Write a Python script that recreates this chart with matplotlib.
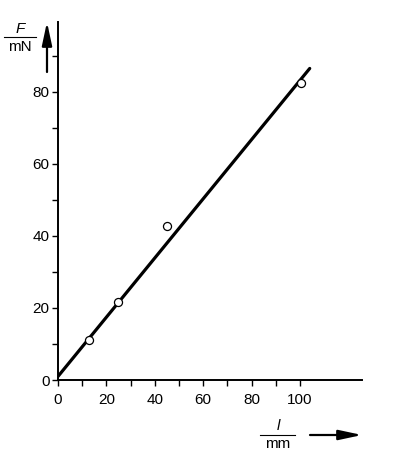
import numpy as np
import matplotlib
matplotlib.use('Agg')
import matplotlib.pyplot as plt

plt.rcParams['font.family'] = ['Liberation Sans', 'DejaVu Sans']

# measured points
l_meas = [12.8, 24.7, 44.9, 100.4]
F_meas = [11.1, 21.7, 42.8, 82.5]

# fitted straight line (start and end)
l_fit = [0.0, 104.0]
F_fit = [1.0, 86.5]

xticks_major = [0, 20, 40, 60, 80, 100]
xticks_minor = [10, 30, 50, 70, 90]
yticks_major = [0, 20, 40, 60, 80]
yticks_minor = [10, 30, 50, 70, 90]

fig = plt.figure(figsize=(4.0, 4.58), dpi=100)
ax = fig.add_axes([0.145, 0.1703, 0.905 - 0.145, 0.952 - 0.1703])

ax.plot(l_fit, F_fit, color='black', lw=2.3, solid_capstyle='round', zorder=2)
ax.plot(l_meas, F_meas, 'o', ms=5.8, mfc='white', mec='black', mew=0.9, zorder=3)

ax.set_xlim(0, 125.6)
ax.set_ylim(0, 99.4)
ax.spines['top'].set_visible(False)
ax.spines['right'].set_visible(False)
for s in ['left', 'bottom']:
    ax.spines[s].set_linewidth(1.4)

ax.set_xticks(xticks_major)
ax.set_xticks(xticks_minor, minor=True)
ax.set_yticks(yticks_major)
ax.set_yticks(yticks_minor, minor=True)
ax.tick_params(which='both', direction='out', length=4.5, width=1.0, labelsize=11)
ax.tick_params(axis='x', pad=4.5)
ax.tick_params(axis='y', pad=1.5)

arrow = '-|>,head_length=1.4,head_width=0.3'

# y axis label as fraction with arrow
fig.text(20/400, 1 - 29/458, 'F', style='italic', fontsize=11, ha='center', va='center')
fig.text(20/400, 1 - 47/458, 'mN', fontsize=11, ha='center', va='center')
fig.add_artist(plt.Line2D([4/400, 36/400], [1 - 37/458, 1 - 37/458], color='black', lw=0.8))
fig.add_artist(matplotlib.patches.FancyArrowPatch((47/400, 1 - 72/458), (47/400, 1 - 22/458),
               transform=fig.transFigure, arrowstyle=arrow, mutation_scale=10,
               color='black', lw=1.6, shrinkA=0, shrinkB=0))

# x axis label as fraction with arrow
fig.text(278/400, 1 - 426/458, 'l', style='italic', fontsize=11, ha='center', va='center')
fig.text(278/400, 1 - 444/458, 'mm', fontsize=11, ha='center', va='center')
fig.add_artist(plt.Line2D([260/400, 295/400], [1 - 435/458, 1 - 435/458], color='black', lw=0.8))
fig.add_artist(matplotlib.patches.FancyArrowPatch((310/400, 1 - 435/458), (362/400, 1 - 435/458),
               transform=fig.transFigure, arrowstyle=arrow, mutation_scale=10,
               color='black', lw=1.6, shrinkA=0, shrinkB=0))

fig.savefig('out.png', dpi=100)
